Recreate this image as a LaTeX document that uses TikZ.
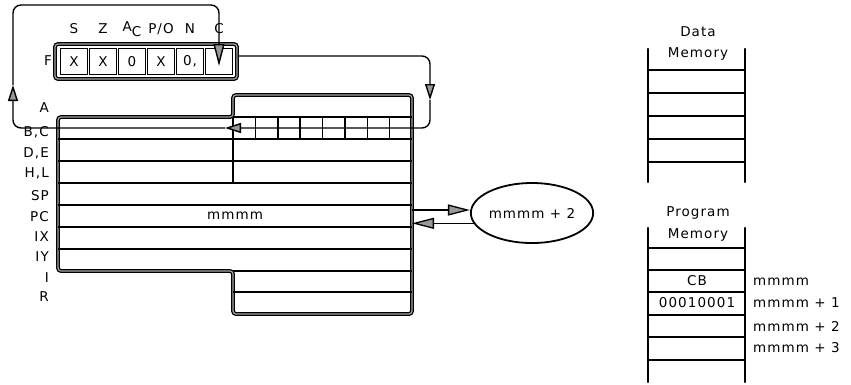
\documentclass[tikz,border=0pt]{standalone}
\usepackage{fontspec}
\setmainfont{DejaVu Sans}[LetterSpace=8]
\usetikzlibrary{arrows.meta,shapes.geometric}

\begin{document}
\begin{tikzpicture}[
  x=1pt, y=-1pt,
  font=\fontsize{13.5}{15}\selectfont,
  reg/.style={anchor=east, inner sep=1pt},
  row/.style={line width=1.5pt},
  rail/.style={line width=2.4pt, line cap=round},
  outl/.style={line width=1.3pt, double=black!35, double distance=1.2pt},
  cell/.style={draw, line width=1pt, minimum width=27pt, minimum height=26pt, inner sep=0pt},
  wire/.style={line width=1.4pt, rounded corners=8pt},
  ptr/.style={-{Triangle[length=16pt,width=10pt,fill=black!40]}},
  ptrs/.style={-{Triangle[length=22pt,width=11pt,fill=black!40]}}
]
\useasboundingbox (0,0) rectangle (851,384);

%% ===== Flag register =====
\node[draw, outl, rounded corners=3pt, minimum width=182pt, minimum height=35pt] (fbox) at (146,61.5) {};
\node[reg] (flbl) at (53,61) {F};
\foreach \v [count=\i from 0] in {X,X,0,X,{0,},{}}
  \node[cell] (f\i) at ({74+29*\i},61.5) {\v};
\foreach \t [count=\i from 0] in {S,Z,{A\raisebox{-5pt}{C}},P/O,N,C}
  \node (fl\i) at ({74+29*\i},29) {\t};

%% ===== Register block =====
\draw[outl, rounded corners=3pt] (58,117) -- (233,117) -- (233,95) -- (412,95)
  -- (412,314) -- (233,314) -- (233,271) -- (58,271) -- cycle;
\foreach \y in {139,161,183,205,227,249}
  \draw[row] (58,\y) -- (412,\y);
\foreach \y in {117,271,292}
  \draw[row] (233,\y) -- (412,\y);
\draw[row] (233,117) -- (233,183);
\foreach \i in {1,...,7}
  \draw[row] ({233+22.375*\i},117) -- ++(0,22);

\foreach \t/\y in {A/108,{B,C}/132,{D,E}/153,{H,L}/173,SP/196,PC/217,IX/237,IY/257,I/278,R/297}
  \node[reg] at (50,\y) {\t};
\node (pcval) at (235,216) {mmmm};

%% ===== Rotate path =====
\coordinate (rdn) at (430,100);
\coordinate (cin) at (225,128);
\coordinate (lup) at (13,85);
\coordinate (cflag) at (219,66);
\draw[wire, ptr] ([yshift=5.5pt]fbox.east) -| (rdn);
\draw[wire, ptr] (rdn) |- (cin);
\draw[wire, ptr] (cin) -| (lup);
\draw[wire, ptrs] (lup) |- (cflag |- 0,5) -- (cflag);

%% ===== Next PC =====
\node[draw, ellipse, line width=1.8pt, minimum width=120pt, minimum height=60pt, inner sep=0pt]
  (pcnext) at (532,213) {mmmm + 2};
\coordinate (pcout) at (412,210);
\draw[ptrs, line width=1.3pt] (pcout) -- (pcout -| pcnext.west);
\draw[ptrs, line width=1.3pt] (pcnext.190) -- (pcnext.190 -| pcout);

%% ===== Data memory =====
\node (dmem) at (698,32) {Data};
\node (dmem2) at (698,54) {Memory};
\foreach \x in {648,745}
  \draw[rail] (\x,49) -- (\x,182);
\foreach \y in {70,93,116,139,162}
  \draw[row] (648,\y) -- (745,\y);

%% ===== Program memory =====
\node (pmem) at (698,213) {Program};
\node (pmem2) at (698,235) {Memory};
\foreach \x in {648,745}
  \draw[rail] (\x,228) -- (\x,382);
\foreach \y in {248,270,292,315,337,360}
  \draw[row] (648,\y) -- (745,\y);
\node (op1) at (697,281) {CB};
\node (op2) at (697,303) {00010001};
\foreach \t/\y in {mmmm/282,mmmm + 1/303,mmmm + 2/326,mmmm + 3/348}
  \node[anchor=west, inner sep=0pt] at (753,\y) {\t};
\end{tikzpicture}
\end{document}
